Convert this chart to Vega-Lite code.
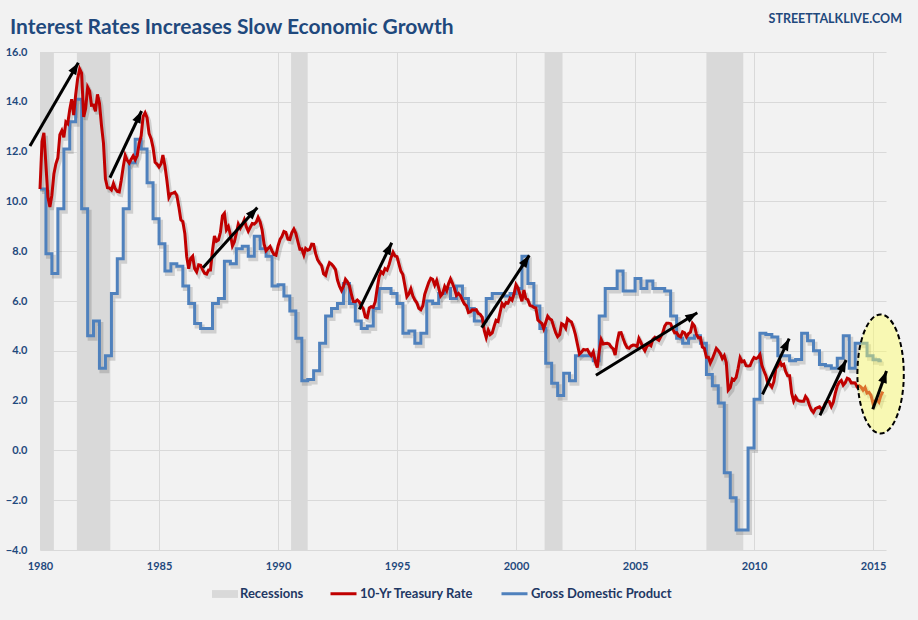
{
"$schema": "https://vega.github.io/schema/vega-lite/v6.json",
"width": 846, "height": 498,
"autosize": {"type": "none"},
"padding": {"left": 40, "top": 52, "right": 32, "bottom": 70},
"background": "#F2F2F2",
"title": {"text": "Interest Rates Increases Slow Economic Growth", "anchor": "start", "frame": "group", "dx": -30, "dy": 56, "offset": 14, "baseline": "alphabetic", "font": "Lato", "fontSize": 21, "fontWeight": "bold", "color": "#1F497D"},
"config": {
  "view": {"stroke": null},
  "axis": {"domain": false, "ticks": false, "grid": true, "gridColor": "#D9D9D9", "gridWidth": 1, "labelFont": "Lato", "labelFontSize": 11, "labelFontWeight": "bold", "labelColor": "#1F497D", "title": null, "labelFlush": false},
  "legend": {"orient": "none", "direction": "horizontal", "title": null, "labelFont": "Lato", "labelFontSize": 13, "labelFontWeight": "bold", "labelColor": "#1F3864", "labelOffset": 2, "padding": 0}
},
"datasets": {
"bands": [
{"s": "1980-01-01", "e": "1980-08-01"},
{"s": "1981-07-20", "e": "1982-12-15"},
{"s": "1990-07-20", "e": "1991-04-01"},
{"s": "2001-03-15", "e": "2001-12-15"},
{"s": "2008-01-01", "e": "2009-07-20"}
],
"gdp": [
{"d":"1980-01","g":10.5},{"d":"1980-04","g":7.9},{"d":"1980-07","g":7.1},{"d":"1980-10","g":9.7},
{"d":"1981-01","g":12.1},{"d":"1981-04","g":13.2},{"d":"1981-07","g":14.1},{"d":"1981-10","g":9.7},
{"d":"1982-01","g":4.6},{"d":"1982-04","g":5.2},{"d":"1982-07","g":3.3},{"d":"1982-10","g":3.8},
{"d":"1983-01","g":6.3},{"d":"1983-04","g":7.7},{"d":"1983-07","g":9.7},{"d":"1983-10","g":11.55},
{"d":"1984-01","g":12.5},{"d":"1984-04","g":12.1},{"d":"1984-07","g":10.75},{"d":"1984-10","g":9.3},
{"d":"1985-01","g":8.3},{"d":"1985-04","g":7.2},{"d":"1985-07","g":7.5},{"d":"1985-10","g":7.4},
{"d":"1986-01","g":6.6},{"d":"1986-04","g":5.9},{"d":"1986-07","g":5.1},{"d":"1986-10","g":4.9},
{"d":"1987-01","g":4.9},{"d":"1987-04","g":5.9},{"d":"1987-07","g":6.1},{"d":"1987-10","g":7.6},
{"d":"1988-01","g":7.5},{"d":"1988-04","g":8.1},{"d":"1988-07","g":8.2},{"d":"1988-10","g":7.8},
{"d":"1989-01","g":8.6},{"d":"1989-04","g":8.1},{"d":"1989-07","g":7.8},{"d":"1989-10","g":6.6},
{"d":"1990-01","g":6.65},{"d":"1990-04","g":6.2},{"d":"1990-07","g":5.6},{"d":"1990-10","g":4.5},
{"d":"1991-01","g":2.8},{"d":"1991-04","g":2.85},{"d":"1991-07","g":3.2},{"d":"1991-10","g":4.3},
{"d":"1992-01","g":5.4},{"d":"1992-04","g":5.7},{"d":"1992-07","g":5.9},{"d":"1992-10","g":6.7},
{"d":"1993-01","g":5.9},{"d":"1993-04","g":5.2},{"d":"1993-07","g":4.9},{"d":"1993-10","g":5.0},
{"d":"1994-01","g":5.7},{"d":"1994-04","g":6.5},{"d":"1994-07","g":6.5},{"d":"1994-10","g":6.3},
{"d":"1995-01","g":5.9},{"d":"1995-04","g":4.7},{"d":"1995-07","g":4.8},{"d":"1995-10","g":4.3},
{"d":"1996-01","g":4.7},{"d":"1996-04","g":6.0},{"d":"1996-07","g":5.9},{"d":"1996-10","g":6.3},
{"d":"1997-01","g":6.5},{"d":"1997-04","g":6.1},{"d":"1997-07","g":6.6},{"d":"1997-10","g":6.1},
{"d":"1998-01","g":5.7},{"d":"1998-04","g":5.2},{"d":"1998-07","g":5.2},{"d":"1998-10","g":6.1},
{"d":"1999-01","g":6.3},{"d":"1999-04","g":6.3},{"d":"1999-07","g":6.2},{"d":"1999-10","g":6.3},
{"d":"2000-01","g":6.5},{"d":"2000-04","g":7.8},{"d":"2000-07","g":6.7},{"d":"2000-10","g":5.8},
{"d":"2001-01","g":4.9},{"d":"2001-04","g":3.5},{"d":"2001-07","g":2.7},{"d":"2001-10","g":2.2},
{"d":"2002-01","g":3.1},{"d":"2002-04","g":2.8},{"d":"2002-07","g":3.8},{"d":"2002-10","g":3.8},
{"d":"2003-01","g":3.8},{"d":"2003-04","g":3.6},{"d":"2003-07","g":5.4},{"d":"2003-10","g":6.5},
{"d":"2004-01","g":6.5},{"d":"2004-04","g":7.2},{"d":"2004-07","g":6.4},{"d":"2004-10","g":6.4},
{"d":"2005-01","g":6.9},{"d":"2005-04","g":6.5},{"d":"2005-07","g":6.8},{"d":"2005-10","g":6.5},
{"d":"2006-01","g":6.5},{"d":"2006-04","g":6.4},{"d":"2006-07","g":5.4},{"d":"2006-10","g":4.5},
{"d":"2007-01","g":4.3},{"d":"2007-04","g":4.5},{"d":"2007-07","g":4.6},{"d":"2007-10","g":4.3},
{"d":"2008-01","g":3.05},{"d":"2008-04","g":2.6},{"d":"2008-07","g":1.9},{"d":"2008-10","g":-0.9},
{"d":"2009-01","g":-1.9},{"d":"2009-04","g":-3.2},{"d":"2009-07","g":-3.2},{"d":"2009-10","g":0.1},
{"d":"2010-01","g":2.05},{"d":"2010-04","g":4.7},{"d":"2010-07","g":4.65},{"d":"2010-10","g":4.55},
{"d":"2011-01","g":3.8},{"d":"2011-04","g":3.8},{"d":"2011-07","g":3.6},{"d":"2011-10","g":3.65},
{"d":"2012-01","g":4.7},{"d":"2012-04","g":4.4},{"d":"2012-07","g":4.0},{"d":"2012-10","g":3.45},
{"d":"2013-01","g":3.4},{"d":"2013-04","g":3.3},{"d":"2013-07","g":3.7},{"d":"2013-10","g":4.6},
{"d":"2014-01","g":3.3},{"d":"2014-04","g":4.3},{"d":"2014-07","g":4.3},{"d":"2014-10","g":3.8},
{"d":"2015-01","g":3.64},{"d":"2015-04","g":3.6},{"d":"2015-05-15","g":3.6}
],
"tsy": [
{"d":"1980-01","v":10.50},{"d":"1980-02","v":12.41},{"d":"1980-03","v":12.75},{"d":"1980-04","v":11.47},{"d":"1980-05","v":10.18},{"d":"1980-06","v":9.78},{"d":"1980-07","v":10.25},{"d":"1980-08","v":11.10},{"d":"1980-09","v":11.51},{"d":"1980-10","v":11.75},{"d":"1980-11","v":12.68},{"d":"1980-12","v":12.84},
{"d":"1981-01","v":12.57},{"d":"1981-02","v":13.19},{"d":"1981-03","v":13.12},{"d":"1981-04","v":13.68},{"d":"1981-05","v":14.10},{"d":"1981-06","v":13.47},{"d":"1981-07","v":14.28},{"d":"1981-08","v":14.94},{"d":"1981-09","v":15.32},{"d":"1981-10","v":15.15},{"d":"1981-11","v":13.39},{"d":"1981-12","v":13.72},
{"d":"1982-01","v":14.59},{"d":"1982-02","v":14.43},{"d":"1982-03","v":13.86},{"d":"1982-04","v":13.87},{"d":"1982-05","v":13.62},{"d":"1982-06","v":14.30},{"d":"1982-07","v":13.95},{"d":"1982-08","v":13.06},{"d":"1982-09","v":12.34},{"d":"1982-10","v":10.91},{"d":"1982-11","v":10.55},{"d":"1982-12","v":10.54},
{"d":"1983-01","v":10.46},{"d":"1983-02","v":10.72},{"d":"1983-03","v":10.51},{"d":"1983-04","v":10.40},{"d":"1983-05","v":10.38},{"d":"1983-06","v":10.85},{"d":"1983-07","v":11.38},{"d":"1983-08","v":11.85},{"d":"1983-09","v":11.65},{"d":"1983-10","v":11.54},{"d":"1983-11","v":11.69},{"d":"1983-12","v":11.83},
{"d":"1984-01","v":11.67},{"d":"1984-02","v":11.84},{"d":"1984-03","v":12.32},{"d":"1984-04","v":12.63},{"d":"1984-05","v":13.41},{"d":"1984-06","v":13.56},{"d":"1984-07","v":13.36},{"d":"1984-08","v":12.72},{"d":"1984-09","v":12.52},{"d":"1984-10","v":12.16},{"d":"1984-11","v":11.57},{"d":"1984-12","v":11.50},
{"d":"1985-01","v":11.38},{"d":"1985-02","v":11.51},{"d":"1985-03","v":11.86},{"d":"1985-04","v":11.43},{"d":"1985-05","v":10.85},{"d":"1985-06","v":10.16},{"d":"1985-07","v":10.31},{"d":"1985-08","v":10.33},{"d":"1985-09","v":10.37},{"d":"1985-10","v":10.24},{"d":"1985-11","v":9.78},{"d":"1985-12","v":9.26},
{"d":"1986-01","v":9.19},{"d":"1986-02","v":8.70},{"d":"1986-03","v":7.78},{"d":"1986-04","v":7.30},{"d":"1986-05","v":7.71},{"d":"1986-06","v":7.80},{"d":"1986-07","v":7.30},{"d":"1986-08","v":7.17},{"d":"1986-09","v":7.45},{"d":"1986-10","v":7.43},{"d":"1986-11","v":7.25},{"d":"1986-12","v":7.11},
{"d":"1987-01","v":7.08},{"d":"1987-02","v":7.25},{"d":"1987-03","v":7.25},{"d":"1987-04","v":8.02},{"d":"1987-05","v":8.61},{"d":"1987-06","v":8.40},{"d":"1987-07","v":8.45},{"d":"1987-08","v":8.76},{"d":"1987-09","v":9.42},{"d":"1987-10","v":9.52},{"d":"1987-11","v":8.86},{"d":"1987-12","v":8.99},
{"d":"1988-01","v":8.67},{"d":"1988-02","v":8.21},{"d":"1988-03","v":8.37},{"d":"1988-04","v":8.72},{"d":"1988-05","v":9.09},{"d":"1988-06","v":8.92},{"d":"1988-07","v":9.06},{"d":"1988-08","v":9.26},{"d":"1988-09","v":8.98},{"d":"1988-10","v":8.80},{"d":"1988-11","v":8.96},{"d":"1988-12","v":9.11},
{"d":"1989-01","v":9.09},{"d":"1989-02","v":9.17},{"d":"1989-03","v":9.36},{"d":"1989-04","v":9.18},{"d":"1989-05","v":8.86},{"d":"1989-06","v":8.28},{"d":"1989-07","v":8.02},{"d":"1989-08","v":8.11},{"d":"1989-09","v":8.19},{"d":"1989-10","v":8.01},{"d":"1989-11","v":7.87},{"d":"1989-12","v":7.84},
{"d":"1990-01","v":8.21},{"d":"1990-02","v":8.47},{"d":"1990-03","v":8.59},{"d":"1990-04","v":8.79},{"d":"1990-05","v":8.76},{"d":"1990-06","v":8.48},{"d":"1990-07","v":8.47},{"d":"1990-08","v":8.75},{"d":"1990-09","v":8.89},{"d":"1990-10","v":8.72},{"d":"1990-11","v":8.39},{"d":"1990-12","v":8.08},
{"d":"1991-01","v":8.09},{"d":"1991-02","v":7.85},{"d":"1991-03","v":8.11},{"d":"1991-04","v":8.04},{"d":"1991-05","v":8.07},{"d":"1991-06","v":8.28},{"d":"1991-07","v":8.27},{"d":"1991-08","v":7.90},{"d":"1991-09","v":7.65},{"d":"1991-10","v":7.53},{"d":"1991-11","v":7.42},{"d":"1991-12","v":7.09},
{"d":"1992-01","v":7.03},{"d":"1992-02","v":7.34},{"d":"1992-03","v":7.54},{"d":"1992-04","v":7.48},{"d":"1992-05","v":7.39},{"d":"1992-06","v":7.26},{"d":"1992-07","v":6.84},{"d":"1992-08","v":6.59},{"d":"1992-09","v":6.42},{"d":"1992-10","v":6.59},{"d":"1992-11","v":6.87},{"d":"1992-12","v":6.77},
{"d":"1993-01","v":6.60},{"d":"1993-02","v":6.26},{"d":"1993-03","v":5.98},{"d":"1993-04","v":5.97},{"d":"1993-05","v":6.04},{"d":"1993-06","v":5.96},{"d":"1993-07","v":5.81},{"d":"1993-08","v":5.68},{"d":"1993-09","v":5.36},{"d":"1993-10","v":5.33},{"d":"1993-11","v":5.72},{"d":"1993-12","v":5.77},
{"d":"1994-01","v":5.75},{"d":"1994-02","v":5.97},{"d":"1994-03","v":6.48},{"d":"1994-04","v":6.97},{"d":"1994-05","v":7.18},{"d":"1994-06","v":7.10},{"d":"1994-07","v":7.30},{"d":"1994-08","v":7.24},{"d":"1994-09","v":7.46},{"d":"1994-10","v":7.74},{"d":"1994-11","v":7.96},{"d":"1994-12","v":7.81},
{"d":"1995-01","v":7.78},{"d":"1995-02","v":7.47},{"d":"1995-03","v":7.20},{"d":"1995-04","v":7.06},{"d":"1995-05","v":6.63},{"d":"1995-06","v":6.17},{"d":"1995-07","v":6.28},{"d":"1995-08","v":6.49},{"d":"1995-09","v":6.20},{"d":"1995-10","v":6.04},{"d":"1995-11","v":5.93},{"d":"1995-12","v":5.71},
{"d":"1996-01","v":5.65},{"d":"1996-02","v":5.81},{"d":"1996-03","v":6.27},{"d":"1996-04","v":6.51},{"d":"1996-05","v":6.74},{"d":"1996-06","v":6.91},{"d":"1996-07","v":6.87},{"d":"1996-08","v":6.64},{"d":"1996-09","v":6.83},{"d":"1996-10","v":6.53},{"d":"1996-11","v":6.20},{"d":"1996-12","v":6.30},
{"d":"1997-01","v":6.58},{"d":"1997-02","v":6.42},{"d":"1997-03","v":6.69},{"d":"1997-04","v":6.89},{"d":"1997-05","v":6.71},{"d":"1997-06","v":6.49},{"d":"1997-07","v":6.22},{"d":"1997-08","v":6.30},{"d":"1997-09","v":6.21},{"d":"1997-10","v":6.03},{"d":"1997-11","v":5.88},{"d":"1997-12","v":5.81},
{"d":"1998-01","v":5.54},{"d":"1998-02","v":5.57},{"d":"1998-03","v":5.65},{"d":"1998-04","v":5.64},{"d":"1998-05","v":5.65},{"d":"1998-06","v":5.50},{"d":"1998-07","v":5.46},{"d":"1998-08","v":5.34},{"d":"1998-09","v":4.81},{"d":"1998-10","v":4.53},{"d":"1998-11","v":4.83},{"d":"1998-12","v":4.65},
{"d":"1999-01","v":4.72},{"d":"1999-02","v":5.00},{"d":"1999-03","v":5.23},{"d":"1999-04","v":5.18},{"d":"1999-05","v":5.54},{"d":"1999-06","v":5.90},{"d":"1999-07","v":5.79},{"d":"1999-08","v":5.94},{"d":"1999-09","v":5.92},{"d":"1999-10","v":6.11},{"d":"1999-11","v":6.03},{"d":"1999-12","v":6.28},
{"d":"2000-01","v":6.66},{"d":"2000-02","v":6.52},{"d":"2000-03","v":6.26},{"d":"2000-04","v":5.99},{"d":"2000-05","v":6.44},{"d":"2000-06","v":6.10},{"d":"2000-07","v":6.05},{"d":"2000-08","v":5.83},{"d":"2000-09","v":5.80},{"d":"2000-10","v":5.74},{"d":"2000-11","v":5.72},{"d":"2000-12","v":5.24},
{"d":"2001-01","v":5.16},{"d":"2001-02","v":5.10},{"d":"2001-03","v":4.89},{"d":"2001-04","v":5.14},{"d":"2001-05","v":5.39},{"d":"2001-06","v":5.28},{"d":"2001-07","v":5.24},{"d":"2001-08","v":4.97},{"d":"2001-09","v":4.73},{"d":"2001-10","v":4.57},{"d":"2001-11","v":4.65},{"d":"2001-12","v":5.09},
{"d":"2002-01","v":5.04},{"d":"2002-02","v":4.91},{"d":"2002-03","v":5.28},{"d":"2002-04","v":5.21},{"d":"2002-05","v":5.16},{"d":"2002-06","v":4.93},{"d":"2002-07","v":4.65},{"d":"2002-08","v":4.26},{"d":"2002-09","v":3.87},{"d":"2002-10","v":3.94},{"d":"2002-11","v":4.05},{"d":"2002-12","v":4.03},
{"d":"2003-01","v":4.05},{"d":"2003-02","v":3.90},{"d":"2003-03","v":3.81},{"d":"2003-04","v":3.96},{"d":"2003-05","v":3.57},{"d":"2003-06","v":3.33},{"d":"2003-07","v":3.98},{"d":"2003-08","v":4.45},{"d":"2003-09","v":4.27},{"d":"2003-10","v":4.29},{"d":"2003-11","v":4.30},{"d":"2003-12","v":4.27},
{"d":"2004-01","v":4.15},{"d":"2004-02","v":4.08},{"d":"2004-03","v":3.83},{"d":"2004-04","v":4.35},{"d":"2004-05","v":4.72},{"d":"2004-06","v":4.73},{"d":"2004-07","v":4.50},{"d":"2004-08","v":4.28},{"d":"2004-09","v":4.13},{"d":"2004-10","v":4.10},{"d":"2004-11","v":4.19},{"d":"2004-12","v":4.23},
{"d":"2005-01","v":4.22},{"d":"2005-02","v":4.17},{"d":"2005-03","v":4.50},{"d":"2005-04","v":4.34},{"d":"2005-05","v":4.14},{"d":"2005-06","v":4.00},{"d":"2005-07","v":4.18},{"d":"2005-08","v":4.26},{"d":"2005-09","v":4.20},{"d":"2005-10","v":4.46},{"d":"2005-11","v":4.54},{"d":"2005-12","v":4.47},
{"d":"2006-01","v":4.42},{"d":"2006-02","v":4.57},{"d":"2006-03","v":4.72},{"d":"2006-04","v":4.99},{"d":"2006-05","v":5.11},{"d":"2006-06","v":5.11},{"d":"2006-07","v":5.09},{"d":"2006-08","v":4.88},{"d":"2006-09","v":4.72},{"d":"2006-10","v":4.73},{"d":"2006-11","v":4.60},{"d":"2006-12","v":4.56},
{"d":"2007-01","v":4.76},{"d":"2007-02","v":4.72},{"d":"2007-03","v":4.56},{"d":"2007-04","v":4.69},{"d":"2007-05","v":4.75},{"d":"2007-06","v":5.10},{"d":"2007-07","v":5.00},{"d":"2007-08","v":4.67},{"d":"2007-09","v":4.52},{"d":"2007-10","v":4.53},{"d":"2007-11","v":4.15},{"d":"2007-12","v":4.10},
{"d":"2008-01","v":3.74},{"d":"2008-02","v":3.74},{"d":"2008-03","v":3.51},{"d":"2008-04","v":3.68},{"d":"2008-05","v":3.88},{"d":"2008-06","v":4.10},{"d":"2008-07","v":4.01},{"d":"2008-08","v":3.89},{"d":"2008-09","v":3.69},{"d":"2008-10","v":3.81},{"d":"2008-11","v":3.53},{"d":"2008-12","v":2.42},
{"d":"2009-01","v":2.52},{"d":"2009-02","v":2.87},{"d":"2009-03","v":2.82},{"d":"2009-04","v":2.93},{"d":"2009-05","v":3.29},{"d":"2009-06","v":3.72},{"d":"2009-07","v":3.56},{"d":"2009-08","v":3.59},{"d":"2009-09","v":3.40},{"d":"2009-10","v":3.39},{"d":"2009-11","v":3.40},{"d":"2009-12","v":3.59},
{"d":"2010-01","v":3.73},{"d":"2010-02","v":3.69},{"d":"2010-03","v":3.73},{"d":"2010-04","v":3.85},{"d":"2010-05","v":3.42},{"d":"2010-06","v":3.20},{"d":"2010-07","v":3.01},{"d":"2010-08","v":2.70},{"d":"2010-09","v":2.65},{"d":"2010-10","v":2.54},{"d":"2010-11","v":2.76},{"d":"2010-12","v":3.29},
{"d":"2011-01","v":3.39},{"d":"2011-02","v":3.58},{"d":"2011-03","v":3.41},{"d":"2011-04","v":3.46},{"d":"2011-05","v":3.17},{"d":"2011-06","v":3.00},{"d":"2011-07","v":3.00},{"d":"2011-08","v":2.30},{"d":"2011-09","v":1.98},{"d":"2011-10","v":2.15},{"d":"2011-11","v":2.01},{"d":"2011-12","v":1.98},
{"d":"2012-01","v":1.97},{"d":"2012-02","v":1.97},{"d":"2012-03","v":2.17},{"d":"2012-04","v":2.05},{"d":"2012-05","v":1.80},{"d":"2012-06","v":1.62},{"d":"2012-07","v":1.53},{"d":"2012-08","v":1.68},{"d":"2012-09","v":1.72},{"d":"2012-10","v":1.75},{"d":"2012-11","v":1.65},{"d":"2012-12","v":1.72},
{"d":"2013-01","v":1.91},{"d":"2013-02","v":1.98},{"d":"2013-03","v":1.96},{"d":"2013-04","v":1.76},{"d":"2013-05","v":1.93},{"d":"2013-06","v":2.30},{"d":"2013-07","v":2.58},{"d":"2013-08","v":2.74},{"d":"2013-09","v":2.81},{"d":"2013-10","v":2.62},{"d":"2013-11","v":2.72},{"d":"2013-12","v":2.90},
{"d":"2014-01","v":2.86},{"d":"2014-02","v":2.71},{"d":"2014-03","v":2.72},{"d":"2014-04","v":2.71},{"d":"2014-05","v":2.56},{"d":"2014-06","v":2.60},{"d":"2014-07","v":2.54},{"d":"2014-08","v":2.42},{"d":"2014-09","v":2.53},{"d":"2014-10","v":2.30},{"d":"2014-11","v":2.33},{"d":"2014-12","v":2.21},
{"d":"2015-01","v":1.88},{"d":"2015-02","v":1.98},{"d":"2015-03","v":2.04},{"d":"2015-04","v":1.94},{"d":"2015-05","v":2.20},{"d":"2015-06","v":2.36}
],
"arrows": [
{"x1":"1979-07-31","y1":12.22,"x2":"1981-08-11","y2":15.57},
{"x1":"1982-12-09","y1":10.95,"x2":"1984-04-08","y2":13.63},
{"x1":"1986-11-06","y1":7.34,"x2":"1989-02-17","y2":9.75},
{"x1":"1993-06-02","y1":5.66,"x2":"1994-10-12","y2":8.34},
{"x1":"1998-07-23","y1":4.93,"x2":"2000-07-23","y2":7.83},
{"x1":"2003-05-11","y1":3.02,"x2":"2007-08-14","y2":5.53},
{"x1":"2010-05-11","y1":2.25,"x2":"2011-06-24","y2":4.49},
{"x1":"2012-10-08","y1":1.41,"x2":"2013-11-14","y2":3.63},
{"x1":"2014-12-28","y1":1.65,"x2":"2015-07-27","y2":3.19}
],
"ellipse": [{"x":"2015-04-27","y":3.07}],
"brand": [{"x":"2016-03-20","y":17.18,"label":"STREETTALKLIVE.COM"}]
},
"layer": [
{
  "data": {"name": "bands"},
  "mark": {"type": "rect", "opacity": 1},
  "encoding": {
    "x": {"field": "s", "type": "temporal", "scale": {"type": "utc", "domain": [{"year": 1980, "month": 1, "date": 1, "utc": true}, {"year": 2015, "month": 7, "date": 19, "utc": true}], "nice": false},
      "axis": {"values": [{"year":1980,"utc":true},{"year":1985,"utc":true},{"year":1990,"utc":true},{"year":1995,"utc":true},{"year":2000,"utc":true},{"year":2005,"utc":true},{"year":2010,"utc":true},{"year":2015,"utc":true}], "format": "%Y", "labelPadding": 10, "labelFlush": false}},
    "x2": {"field": "e"},
    "fill": {"datum": "Recessions", "type": "nominal",
      "scale": {"domain": ["Recessions"], "range": ["#D9D9D9"]},
      "legend": {"legendX": 172, "legendY": 529, "symbolType": "M-1,-0.3L1,-0.3L1,0.3L-1,0.3Z", "symbolSize": 676, "symbolStrokeWidth": 0, "symbolFillColor": "#D9D9D9"}}
  }
},
{
  "data": {"name": "gdp"},
  "mark": {"type": "line", "interpolate": "step-after", "color": "#000000", "opacity": 0.14, "strokeWidth": 4, "xOffset": 2, "yOffset": 3},
  "encoding": {"x": {"field": "d", "type": "temporal"}, "y": {"field": "g", "type": "quantitative", "scale": {"domain": [-4, 16], "nice": false, "zero": false}, "axis": {"values": [-4,-2,0,2,4,6,8,10,12,14,16], "format": ".1f", "labelPadding": 13}}}
},
{
  "data": {"name": "tsy"},
  "mark": {"type": "line", "color": "#000000", "opacity": 0.14, "strokeWidth": 4, "xOffset": 2, "yOffset": 3},
  "encoding": {"x": {"field": "d", "type": "temporal"}, "y": {"field": "v", "type": "quantitative"}}
},
{
  "data": {"name": "gdp"},
  "mark": {"type": "line", "interpolate": "step-after", "strokeWidth": 3},
  "encoding": {"x": {"field": "d", "type": "temporal"}, "y": {"field": "g", "type": "quantitative"},
    "color": {"datum": "Gross Domestic Product", "type": "nominal",
      "scale": {"domain": ["10-Yr Treasury Rate", "Gross Domestic Product"], "range": ["#C00000", "#4F81BD"]},
      "legend": {"legendX": 289, "legendY": 527, "columns": 2, "symbolType": "stroke", "symbolSize": 676, "symbolStrokeWidth": 3, "columnPadding": 21}}}
},
{
  "data": {"name": "tsy"},
  "mark": {"type": "line", "strokeWidth": 3},
  "encoding": {"x": {"field": "d", "type": "temporal"}, "y": {"field": "v", "type": "quantitative"}, "color": {"datum": "10-Yr Treasury Rate", "type": "nominal"}}
},
{
  "data": {"name": "ellipse"},
  "mark": {"type": "point", "shape": "M-0.39,0A0.39,1 0 1,1 0.39,0A0.39,1 0 1,1 -0.39,0Z", "size": 14161, "filled": true, "fill": "#FFFF66", "fillOpacity": 0.45, "opacity": 1, "stroke": "#000000", "strokeOpacity": 1, "strokeWidth": 2, "strokeDash": [5, 3]},
  "encoding": {"x": {"field": "x", "type": "temporal"}, "y": {"field": "y", "type": "quantitative"}}
},
{
  "data": {"name": "arrows"},
  "mark": {"type": "rule", "color": "#000000", "strokeWidth": 3},
  "encoding": {"x": {"field": "x1", "type": "temporal"}, "y": {"field": "y1", "type": "quantitative"}, "x2": {"field": "x2"}, "y2": {"field": "y2"}}
},
{
  "data": {"name": "arrows"},
  "transform": [{"calculate": "atan2((time(datum.x2) - time(datum.x1)) / 31557600000 * 23.8, (datum.y2 - datum.y1) * 24.9) * 180 / PI", "as": "ang"}],
  "mark": {"type": "point", "shape": "M0,0L0.45,1.2L-0.45,1.2Z", "size": 400, "filled": true, "color": "#000000", "opacity": 1},
  "encoding": {"x": {"field": "x2", "type": "temporal"}, "y": {"field": "y2", "type": "quantitative"}, "angle": {"field": "ang", "type": "quantitative", "scale": null}}
},
{
  "data": {"name": "brand"},
  "mark": {"type": "text", "align": "right", "baseline": "alphabetic", "font": "Lato", "fontSize": 12.5, "fontWeight": "bold", "color": "#1F497D"},
  "encoding": {"x": {"field": "x", "type": "temporal"}, "y": {"field": "y", "type": "quantitative"}, "text": {"field": "label"}}
}
]
}
